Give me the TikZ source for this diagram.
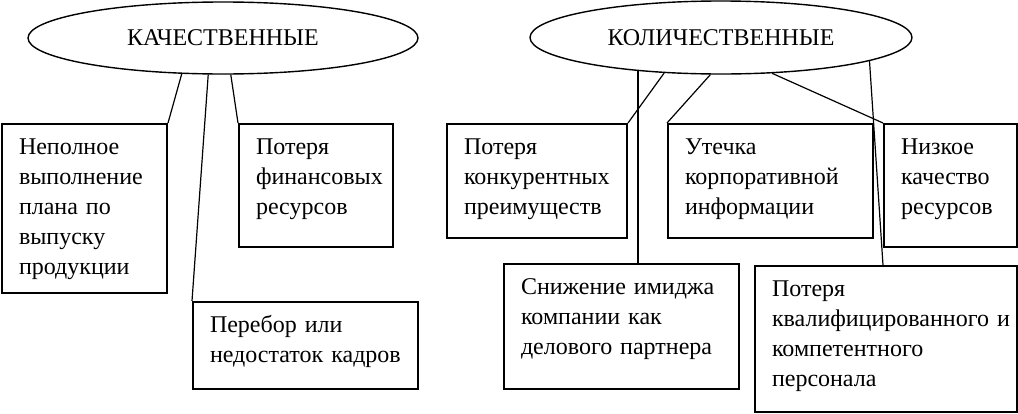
\documentclass[tikz,border=0pt]{standalone}
\usepackage{fontspec}
\setmainfont{Liberation Serif}
\usetikzlibrary{shapes.geometric}

\tikzset{
  oval/.style={ellipse, draw, line width=0.7pt, inner sep=0pt},
  risk/.style={draw, line width=1pt, anchor=north west, align=left,
    inner xsep=8.5pt, inner ysep=0pt, text height=15pt},
  link/.style={line width=0.6pt}
}

\begin{document}
\begin{tikzpicture}[x=0.5pt, y=-0.5pt, font=\fontsize{12}{15}\selectfont]
\useasboundingbox (0,0) rectangle (1018,413);

% two groups
\node[oval, minimum width=195pt, minimum height=36pt] (kach) at (223,38) {КАЧЕСТВЕННЫЕ};
\node[oval, minimum width=191pt, minimum height=36.5pt] (kol) at (721,37.5) {КОЛИЧЕСТВЕННЫЕ};

% left boxes
\node[risk, text width=65.5pt, text depth=69.5pt] (nepoln) at (1,123) {Неполное\\ выполнение\\ плана по\\ выпуску\\ продукции};
\node[risk, text width=60pt, text depth=46.5pt] (finans) at (238,123) {Потеря\\ финансовых\\ ресурсов};
\node[risk, text width=95.5pt, text depth=28.5pt] (kadr) at (192,301) {Перебор или\\ недостаток~кадров};

% right boxes
\node[risk, text width=73pt, text depth=42pt] (konk) at (446,123) {Потеря\\ конкурентных\\ преимуществ};
\node[risk, text width=85.5pt, text depth=42pt] (utech) at (667,123) {Утечка\\ корпоративной\\ информации};
\node[risk, text width=49.5pt, text depth=46.5pt] (nizk) at (883,123) {Низкое\\ качество\\ ресурсов};
\node[risk, text width=100.5pt, text depth=47.5pt] (snizh) at (503,263) {Снижение~имиджа\\ компании как\\ делового~партнера};
\node[risk, text width=114pt, text depth=58pt] (kval) at (754,265) {Потеря\\ квалифицированного~и\\ компетентного\\ персонала};

% connectors
\draw[link] (kach.221.4) -- (nepoln.north east);
\draw[link] (kach.248.7) -- (kadr.north west);
\draw[link] (kach.282.5) -- (finans.north west);

\draw[link] (kol.202.2) -- (kol.202.2 |- snizh.north);
\draw[link] (kol.212.9) -- (konk.north east);
\draw[link] (kol.254.7) -- (utech.north west);
\draw[link] (kol.325.4) -- (nizk.north west);
\draw[link] (kol.351.6) -- (kval.north -| nizk.west);
\end{tikzpicture}
\end{document}
